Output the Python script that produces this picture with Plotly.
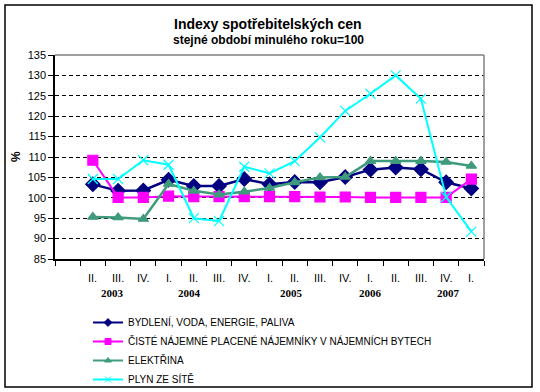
import plotly.graph_objects as go

# ---- data ----
quarters = ["", "II.", "III.", "IV.", "I.", "II.", "III.", "IV.", "I.", "II.", "III.", "IV.",
            "I.", "II.", "III.", "IV.", "I."]
years = ["2003", "2004", "2005", "2006", "2007"]
year_pos = [1.76, 4.81, 8.89, 12.02, 15.11]  # label placement (category index units)

bydleni = [None, 103.3, 101.7, 101.8, 104.4, 102.9, 102.9, 104.6, 103.3, 103.9, 103.8, 105.1,
           106.9, 107.4, 107.0, 103.8, 102.3]
najemne = [None, 109.2, 100.1, 100.1, 100.4, 100.3, 100.3, 100.3, 100.3, 100.3, 100.2, 100.2,
           100.1, 100.1, 100.1, 100.1, 104.6]
elektrina = [None, 95.3, 95.2, 94.8, 103.4, 101.7, 100.8, 101.5, 102.4, 103.8, 105.0, 105.1,
             109.0, 109.0, 109.0, 108.8, 107.8]
plyn = [None, 104.6, 104.6, 109.2, 108.1, 95.0, 94.3, 107.6, 106.0, 109.0, 114.8, 121.3,
        125.5, 130.0, 124.3, 100.2, 91.7]

names = ["BYDLENÍ, VODA, ENERGIE, PALIVA",
         "ČISTÉ NÁJEMNÉ PLACENÉ NÁJEMNÍKY V NÁJEMNÍCH BYTECH",
         "ELEKTŘINA",
         "PLYN ZE SÍTĚ"]

x = list(range(len(quarters)))

# ---- geometry (pixels) ----
W, H = 540, 392
L, R, T, B = 55, 484, 55, 259
pw, ph = R - L, B - T

def px(xp):
    return (xp - L) / pw

def py(yp):
    return (B - yp) / ph

styles = [
    dict(color="#000080", lw=2.5, symbol="diamond", size=11),
    dict(color="#FF00FF", lw=2, symbol="square", size=10),
    dict(color="#3F9B7C", lw=2.5, symbol="triangle-up", size=9),
    dict(color="#00FFFF", lw=2, symbol="x-thin", size=10),
]
series = [bydleni, najemne, elektrina, plyn]

fig = go.Figure()
for name, ys, st in zip(names, series, styles):
    fig.add_trace(go.Scatter(x=x, y=ys, name=name, mode="lines+markers", showlegend=False,
                             line=dict(color=st["color"], width=st["lw"]),
                             marker=dict(symbol=st["symbol"], size=st["size"], color=st["color"],
                                         line=dict(color=st["color"], width=1.2))))
# legend entries with small markers (as in the original)
for name, st in zip(names, styles):
    fig.add_trace(go.Scatter(x=[None], y=[None], name=name, mode="lines+markers",
                             line=dict(color=st["color"], width=2),
                             marker=dict(symbol=st["symbol"], size=6, color=st["color"],
                                         line=dict(color=st["color"], width=1))))

fig.update_layout(
    width=W, height=H,
    margin=dict(l=L, r=W - R, t=T, b=H - B, pad=0, autoexpand=False),
    paper_bgcolor="white", plot_bgcolor="white",
    font=dict(family="Liberation Sans, Arial, sans-serif", size=11, color="black"),
    showlegend=True,
    legend=dict(x=px(88), y=py(308), xanchor="left", yanchor="top",
                font=dict(size=10, family="Liberation Sans, Arial, sans-serif"),
                bgcolor="rgba(0,0,0,0)", tracegroupgap=0, itemwidth=30),
)

fig.update_xaxes(range=[-0.5, len(quarters) - 0.5], tickmode="linear", tick0=-0.5, dtick=1,
                 ticks="outside", ticklen=5, tickcolor="black", tickwidth=1,
                 showticklabels=False, showgrid=False, zeroline=False,
                 showline=True, linecolor="black", linewidth=1.5)
fig.update_yaxes(range=[85, 135], tickmode="linear", tick0=85, dtick=5,
                 ticks="outside", ticklen=5, tickcolor="black", tickwidth=1,
                 showgrid=True, gridcolor="black", gridwidth=1, griddash="4px,3px",
                 zeroline=False, showline=True, linecolor="black", linewidth=1.5,
                 tickfont=dict(size=11))

annotations = []
for i, q in enumerate(quarters):
    if q:
        annotations.append(dict(x=i, y=py(278), xref="x", yref="paper", text=q,
                                showarrow=False, font=dict(size=11), yanchor="middle"))
for yr, pos in zip(years, year_pos):
    annotations.append(dict(x=pos, y=py(293), xref="x", yref="paper", text="<b>%s</b>" % yr,
                            showarrow=False, yanchor="middle",
                            font=dict(size=11, family="Liberation Serif, Times New Roman, serif")))
annotations.append(dict(x=px(268), y=py(24), xref="paper", yref="paper",
                        text="<b>Indexy spotřebitelských cen</b>", showarrow=False,
                        font=dict(size=14), yanchor="middle"))
annotations.append(dict(x=px(268), y=py(40), xref="paper", yref="paper",
                        text="<b>stejné období minulého roku=100</b>", showarrow=False,
                        font=dict(size=12), yanchor="middle"))
annotations.append(dict(x=px(16), y=py(157), xref="paper", yref="paper",
                        text="<b>%</b>", showarrow=False, textangle=-90,
                        font=dict(size=12), xanchor="center", yanchor="middle"))
fig.update_layout(annotations=annotations)

shapes = [
    # chart outer border
    dict(type="rect", xref="paper", yref="paper", x0=px(5), x1=px(532), y0=py(387), y1=py(5),
         line=dict(color="black", width=1.5), layer="above"),
    # plot area top/right border (gray)
    dict(type="line", xref="paper", yref="paper", x0=0, x1=1, y0=1, y1=1,
         line=dict(color="#808080", width=1.5), layer="above"),
    dict(type="line", xref="paper", yref="paper", x0=1, x1=1, y0=0, y1=1,
         line=dict(color="#808080", width=1.5), layer="above"),
]
fig.update_layout(shapes=shapes)

fig.write_html("out.html", config={"displayModeBar": False},
               post_script="document.body.style.margin='0';document.body.style.overflow='hidden';")
